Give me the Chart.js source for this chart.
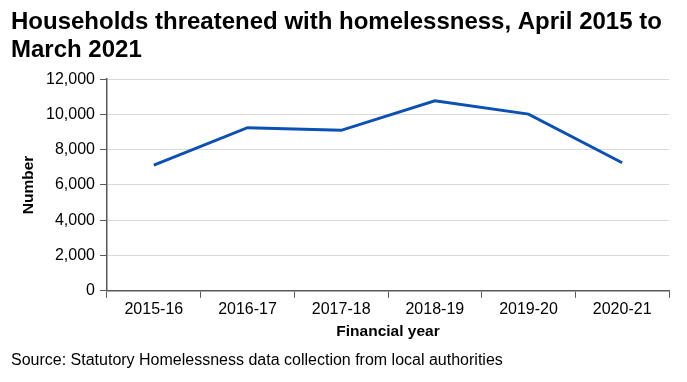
<!DOCTYPE html>
<html>
<head>
<meta charset="utf-8">
<script src="https://cdn.jsdelivr.net/npm/chart.js@4"></script>
<style>
  html, body { margin: 0; padding: 0; background: #fff; }
  #wrap { position: relative; width: 687px; height: 382px; }
</style>
</head>
<body>
<div id="wrap"><canvas id="chart" width="687" height="382"></canvas></div>
<script>
const years = ["2015-16", "2016-17", "2017-18", "2018-19", "2019-20", "2020-21"];
const households = [7130, 9250, 9100, 10770, 10020, 7260];
const titleLines = ["Households threatened with homelessness, April 2015 to", "March 2021"];
const sourceNote = "Source: Statutory Homelessness data collection from local authorities";

Chart.defaults.font.family = "'Liberation Sans', Arial, sans-serif";
Chart.defaults.color = "#000";

const ctx = document.getElementById("chart").getContext("2d");
new Chart(ctx, {
    type: "line",
    data: {
        labels: years,
        datasets: [{
            label: "Households",
            data: households,
            borderColor: "#0b50b4",
            borderWidth: 3,
            pointRadius: 0,
            tension: 0,
            fill: false
        }]
    },
    options: {
        responsive: false,
        animation: false,
        layout: { padding: { left: 11, right: 18, top: 0, bottom: 12 } },
        plugins: {
            legend: { display: false },
            tooltip: { enabled: false },
            title: {
                display: true,
                text: titleLines,
                align: "start",
                font: { size: 24, weight: "bold", lineHeight: 1.17 },
                padding: { top: 8, bottom: 15 }
            },
            subtitle: {
                display: true,
                text: sourceNote,
                position: "bottom",
                align: "start",
                font: { size: 16, lineHeight: 1.2 },
                padding: { top: 10, bottom: 0 }
            }
        },
        scales: {
            x: {
                offset: true,
                afterFit: s => { s.height = 50; },
                grid: {
                    offset: true,
                    drawOnChartArea: false,
                    drawTicks: true,
                    tickLength: 7,
                    tickColor: "#595959"
                },
                border: { color: "#595959", width: 1.5 },
                ticks: { font: { size: 16, lineHeight: 1.2 }, maxRotation: 0, padding: 2 },
                title: {
                    display: true,
                    text: "Financial year",
                    font: { size: 15.5, weight: "bold", lineHeight: 1.2 },
                    padding: { top: 5, bottom: 0 }
                }
            },
            y: {
                min: 0,
                max: 12000,
                afterFit: s => { s.width = 96; },
                ticks: {
                    stepSize: 2000,
                    font: { size: 16 },
                    padding: 5,
                    callback: v => v.toLocaleString("en-GB")
                },
                grid: {
                    color: "#d9d9d9",
                    tickLength: 7,
                    tickColor: "#595959"
                },
                border: { color: "#595959", width: 1.5 },
                title: {
                    display: true,
                    text: "Number",
                    font: { size: 15.5, weight: "bold", lineHeight: 1.2 },
                    padding: { top: 8, bottom: 0 }
                }
            }
        }
    }
});
</script>
</body>
</html>
